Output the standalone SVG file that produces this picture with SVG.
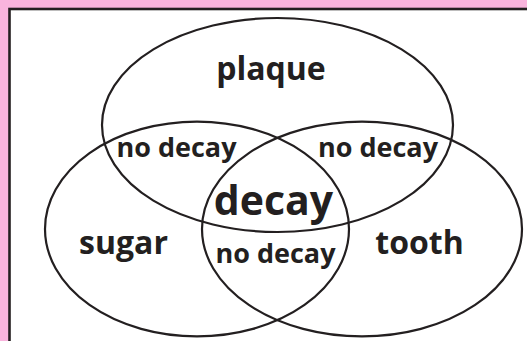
<svg xmlns="http://www.w3.org/2000/svg" width="527" height="341" viewBox="0 0 527 341">
<style>
.set{fill:none;stroke:#231F20;stroke-width:2.2}
.lbl{font-family:"Open Sans","Liberation Sans",sans-serif;font-weight:bold;fill:#231F20;text-anchor:middle}
.big{font-size:32px}
.mid{font-size:27px}
.huge{font-size:41px}
</style>
<rect x="0" y="0" width="527" height="341" fill="#F9B4DD"/>
<rect x="9.5" y="9" width="540" height="360" fill="#FFFFFF" stroke="#231F20" stroke-width="2.6"/>
<g id="connectors"></g>
<g id="plaque"><ellipse class="set" cx="277.5" cy="125" rx="175.5" ry="107"/></g>
<g id="sugar"><ellipse class="set" cx="197" cy="229" rx="152" ry="107.4"/></g>
<g id="tooth"><ellipse class="set" cx="362" cy="229" rx="160" ry="107.4"/></g>
<g id="labels">
<text class="lbl big" x="271" y="80">plaque</text>
<text class="lbl big" x="123.5" y="254">sugar</text>
<text class="lbl big" x="419.5" y="254">tooth</text>
<text class="lbl huge" x="273.5" y="215">decay</text>
<text class="lbl mid" x="176.5" y="157">no decay</text>
<text class="lbl mid" x="378" y="157">no decay</text>
<text class="lbl mid" x="275.5" y="263">no decay</text>
</g>
</svg>
